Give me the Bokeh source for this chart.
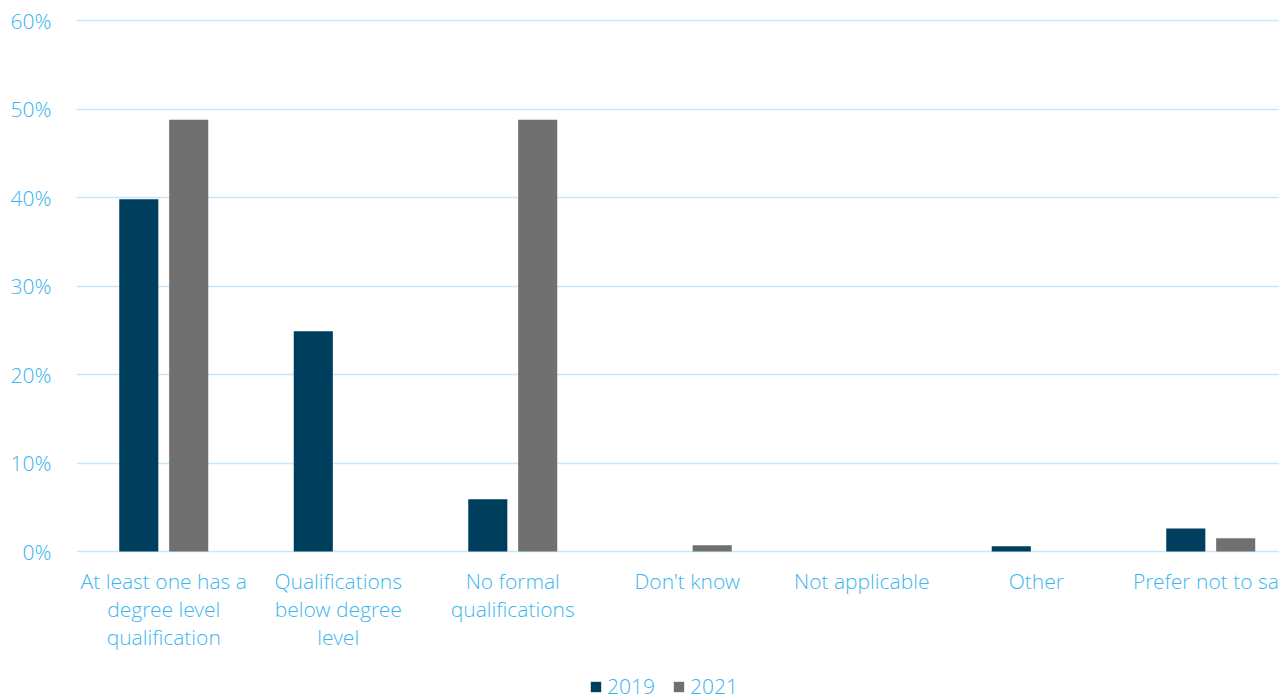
from bokeh.plotting import figure
from bokeh.models import (Range1d, FixedTicker, PrintfTickFormatter, Legend, LegendItem)
from bokeh.core.properties import value
from bokeh.embed import file_html
from bokeh.resources import INLINE

categories = ["At least one has a\ndegree level\nqualification",
              "Qualifications\nbelow degree\nlevel",
              "No formal\nqualifications",
              "Don't know",
              "Not applicable",
              "Other",
              "Prefer not to say"]
values_2019 = [39.8, 24.9, 5.9, 0.0, 0.0, 0.6, 2.6]
values_2021 = [48.8, 0.0, 48.8, 0.7, 0.0, 0.0, 1.5]
y_ticks = [0, 10, 20, 30, 40, 50, 60]

FONT = "Open Sans Light, Open Sans"
TXT = "#3DB5EF"
C2019 = "#003E5E"
C2021 = "#707070"

# frame spans the whole lower area so category labels and legend live inside it
p = figure(frame_width=1203, frame_height=680, output_backend="svg", toolbar_location=None,
           x_range=Range1d(-0.5, 6.394), y_range=Range1d(-16.725, 60.12),
           min_border_left=76, min_border_top=19, min_border_right=0,
           min_border_bottom=0)
p.outline_line_color = None
p.background_fill_color = "white"
p.border_fill_color = "white"

idx = list(range(len(categories)))
off = 0.143
w = 0.224
x19 = [i - off for i in idx]
x21 = [i + off for i in idx]
r1 = p.vbar(x=x19, top=values_2019, width=w, fill_color=C2019, line_color=None)
r2 = p.vbar(x=x21, top=values_2021, width=w, fill_color=C2021, line_color=None)

p.xgrid.grid_line_color = None
p.ygrid.grid_line_color = "#C6E8FA"
p.ygrid.grid_line_width = 1.5
p.ygrid.ticker = FixedTicker(ticks=y_ticks)
p.ygrid.level = "underlay"

ya = p.yaxis[0]
ya.ticker = FixedTicker(ticks=y_ticks)
ya.formatter = PrintfTickFormatter(format="%d%%")
ya.axis_line_color = None
ya.major_tick_line_color = None
ya.minor_tick_line_color = None
ya.major_label_text_font = FONT
ya.major_label_text_font_size = "21px"
ya.major_label_text_color = TXT
ya.major_label_standoff = 19

p.xaxis.visible = False

# category labels under each group
p.text(x=idx, y=[0] * len(idx), text=categories, y_offset=15,
       text_align="center", text_baseline="top",
       text_font=value(FONT), text_font_size="21px", text_color=TXT,
       text_line_height=1.0)

legend = Legend(items=[LegendItem(label="2019", renderers=[r1]),
                       LegendItem(label="2021", renderers=[r2])],
                orientation="horizontal", location=(513, -1),
                label_text_font=FONT, label_text_font_size="21px",
                label_text_color=TXT, glyph_width=13, glyph_height=13,
                label_height=13, label_text_line_height=1.0,
                label_standoff=5, spacing=17, border_line_color=None,
                background_fill_alpha=0, padding=0, margin=0)
p.add_layout(legend, "center")

open("out.html", "w").write(file_html(p, INLINE))
